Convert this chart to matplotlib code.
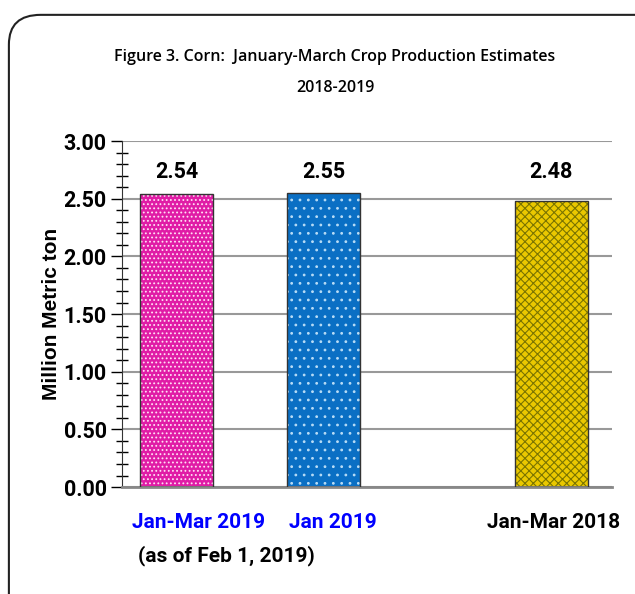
import matplotlib.pyplot as plt
import matplotlib.transforms as mtransforms
from matplotlib.patches import FancyBboxPatch
from matplotlib.ticker import MultipleLocator

categories = ['Jan-Mar 2019', 'Jan 2019', 'Jan-Mar 2018']
values = [2.54, 2.55, 2.48]
yticks = [0.0, 0.5, 1.0, 1.5, 2.0, 2.5, 3.0]
label_colors = ['#0000FF', '#0000FF', 'black']
face_colors = ['#E01CA6', '#0A6FC4', '#EAC800']
hatch_colors = ['#FFE0F4', '#B8DCF6', '#7A7400']
hatches = ['....', '..', 'xxxx']

# layout (positions in axis units, not data)
xpos = [0, 1, 2.548]
label_x = [0.153, 1.064, 2.568]
width = 0.497

narrow = ['Roboto', 'DejaVu Sans']

fig = plt.figure(figsize=(6.35, 5.94), dpi=100)

# rounded frame around the chart
frame = FancyBboxPatch((0.014, -0.1), 1.2, 1.075, boxstyle='round,pad=0,rounding_size=0.05',
                       transform=fig.transFigure, facecolor='white', edgecolor='#222222',
                       linewidth=1.5, zorder=-5)
fig.patches.append(frame)

ax = fig.add_axes([0.192, 0.180, 0.772, 0.5826])
ax.patch.set_alpha(0)
ax.set_zorder(2)

plt.rcParams['hatch.linewidth'] = 0.8
for i in range(len(values)):
    ax.bar(xpos[i], values[i], width, color=face_colors[i], edgecolor=hatch_colors[i],
           hatch=hatches[i], linewidth=0, zorder=2)
    ax.bar(xpos[i], values[i], width, fill=False, edgecolor='#333333', linewidth=1.0, zorder=3)
    ax.text(xpos[i], 2.73, '%.2f' % values[i], ha='center', va='center', fontsize=15.5,
            fontweight='bold', family=narrow, zorder=4)

ax.set_xlim(-0.371, 2.963)
ax.set_ylim(0, 3.0)
ax.set_yticks(yticks)
ax.yaxis.set_minor_locator(MultipleLocator(0.1))
ax.yaxis.grid(True, which='major', color='#999999', linewidth=1.5, zorder=1)
ax.set_axisbelow(True)
ax.set_xticks([])
ax.set_yticklabels(['%.2f' % v for v in yticks], fontsize=15.5, fontweight='bold', family=narrow)
ax.tick_params(axis='y', which='major', length=8, width=1, direction='out', pad=3)
ax.tick_params(axis='y', which='minor', length=8, width=1, direction='inout')

for s in ['top', 'right']:
    ax.spines[s].set_visible(False)
ax.spines['left'].set_color('#333333')
ax.spines['bottom'].set_color('#888888')
ax.spines['bottom'].set_linewidth(2)

ax.set_ylabel('Million Metric ton', fontsize=15, fontweight='bold', family='Liberation Sans', labelpad=2)

trans = mtransforms.blended_transform_factory(ax.transData, fig.transFigure)
for i in range(len(categories)):
    ax.text(label_x[i], 1 - 522 / 594, categories[i], transform=trans, ha='center', va='center',
            fontsize=15, fontweight='bold', color=label_colors[i], family=narrow, clip_on=False)
fig.text(138 / 635, 1 - 556 / 594, '(as of Feb 1, 2019)', ha='left', va='center',
         fontsize=15, fontweight='bold', family=narrow)

fig.text(335 / 635, 1 - 57 / 594, 'Figure 3. Corn:  January-March Crop Production Estimates',
         ha='center', va='center', fontsize=11.5, fontweight='semibold', family='Open Sans')
fig.text(335 / 635, 1 - 88 / 594, '2018-2019', ha='center', va='center', fontsize=11.5,
         fontweight='semibold', family='Open Sans')

fig.savefig('out.png', dpi=100)
